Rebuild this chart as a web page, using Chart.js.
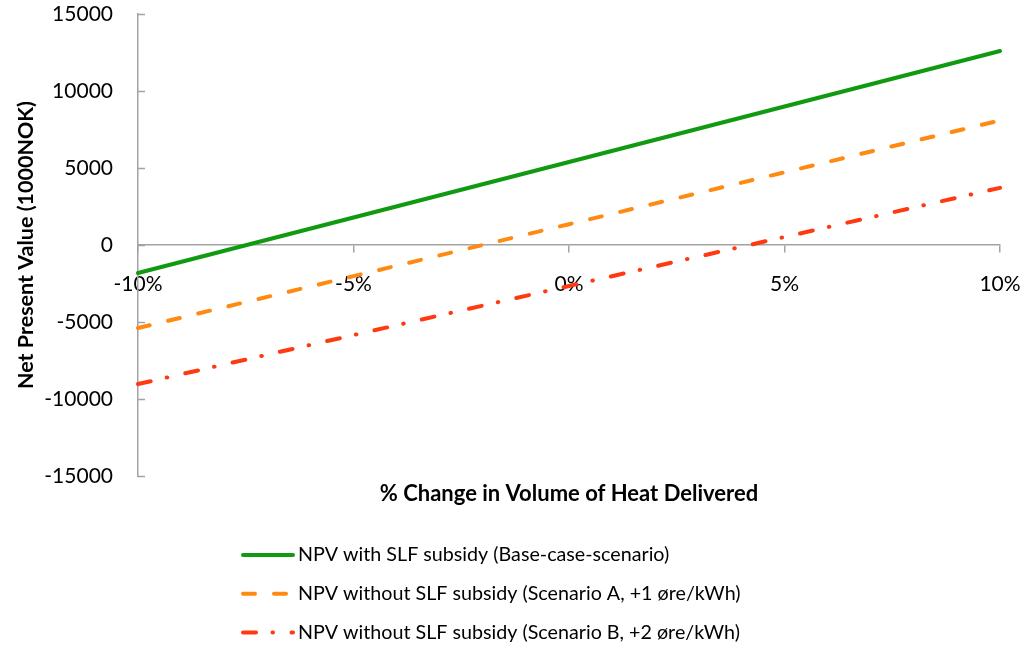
<!DOCTYPE html>
<html><head><meta charset="utf-8">
<script src="https://cdn.jsdelivr.net/npm/chart.js@4.4.1/dist/chart.umd.min.js"></script>
<style>html,body{margin:0;padding:0;background:#fff}</style>
</head><body>
<canvas id="c" width="1023" height="647"></canvas>
<script>
const categories = ['-10%', '-5%', '0%', '5%', '10%'];
const seriesNames = [
  'NPV with SLF subsidy (Base-case-scenario)',
  'NPV without SLF subsidy (Scenario A, +1 \u00f8re/kWh)',
  'NPV without SLF subsidy (Scenario B, +2 \u00f8re/kWh)'
];
const npvBase = [-1820, 1785, 5390, 8995, 12600];
const npvScenarioA = [-5390, -2020, 1350, 4720, 8090];
const npvScenarioB = [-9030, -5850, -2660, 520, 3710];
const yTickValues = [-15000, -10000, -5000, 0, 5000, 10000, 15000];
const xTitle = '% Change in Volume of Heat Delivered';
const yTitle = 'Net Present Value (1000NOK)';

const AXIS = '#A3A3A3';
const FONT = 'Lato';

function zeroPad(s) { s.paddingTop = 0; s.paddingBottom = 0; s.paddingLeft = 0; s.paddingRight = 0; }

const extras = {
  id: 'extras',
  afterDraw(chart) {
    const ctx = chart.ctx, ys = chart.scales.y, ca = chart.chartArea;
    ctx.save();
    ctx.strokeStyle = AXIS; ctx.lineWidth = 1.5;
    ys.ticks.forEach(t => {
      const py = Math.round(ys.getPixelForValue(t.value)) + 0.5;
      ctx.beginPath(); ctx.moveTo(ca.left, py); ctx.lineTo(ca.left + 7, py); ctx.stroke();
    });
    ctx.fillStyle = '#000';
    ctx.font = 'bold 22px ' + FONT;
    ctx.textAlign = 'center'; ctx.textBaseline = 'middle';
    ctx.fillText(xTitle, (ca.left + ca.right) / 2, 494);
    // legend
    ctx.textAlign = 'left';
    ctx.font = '19.7px ' + FONT;
    chart.data.datasets.forEach((ds, i) => {
      const ly = 555 + i * 38.7;
      ctx.save();
      ctx.strokeStyle = ds.borderColor; ctx.lineWidth = ds.borderWidth;
      ctx.lineCap = 'round';
      ctx.setLineDash(ds.borderDash || []);
      ctx.beginPath(); ctx.moveTo(243, ly); ctx.lineTo(293, ly); ctx.stroke();
      ctx.restore();
      ctx.fillStyle = '#000';
      ctx.fillText(ds.label, 298, ly);
    });
    ctx.restore();
  }
};

new Chart(document.getElementById('c'), {
  type: 'line',
  data: {
    labels: categories,
    datasets: [
      { label: seriesNames[0], data: npvBase, borderColor: '#119A11', borderWidth: 4, pointRadius: 0, tension: 0, borderCapStyle: 'round' },
      { label: seriesNames[1], data: npvScenarioA, borderColor: '#FF8A12', borderWidth: 4, pointRadius: 0, tension: 0, borderDash: [12, 19], borderCapStyle: 'round' },
      { label: seriesNames[2], data: npvScenarioB, borderColor: '#FF3A10', borderWidth: 4, pointRadius: 0, tension: 0, borderDash: [13, 16.5, 0.5, 18.5], borderCapStyle: 'round' }
    ]
  },
  options: {
    responsive: false,
    animation: false,
    layout: { padding: { left: 0, right: 23, top: 14, bottom: 171 } },
    plugins: { legend: { display: false }, tooltip: { enabled: false } },
    scales: {
      x: {
        type: 'category',
        offset: false,
        position: { y: 0 },
        grid: { display: true, drawOnChartArea: false, drawTicks: true, tickLength: 7, color: AXIS, lineWidth: 1.5 },
        border: { display: true, color: AXIS, width: 1.5 },
        ticks: { padding: 20, color: '#000', font: { family: FONT, size: 21 }, maxRotation: 0, autoSkip: false },
        afterFit(s) { s.height = 0; zeroPad(s); }
      },
      y: {
        min: -15000, max: 15000,
        afterBuildTicks(s) { s.ticks = yTickValues.map(v => ({ value: v })); },
        grid: { display: false, drawTicks: false },
        border: { display: true, color: AXIS, width: 1.5 },
        ticks: { padding: 25, color: '#000', font: { family: FONT, size: 21 }, callback: v => String(v) },
        title: { display: true, text: yTitle, color: '#000', font: { family: FONT, size: 21.5, weight: 'bold' }, padding: { top: 13 } },
        afterFit(s) { s.width = 138; zeroPad(s); }
      }
    }
  },
  plugins: [extras]
});
</script>
</body></html>
